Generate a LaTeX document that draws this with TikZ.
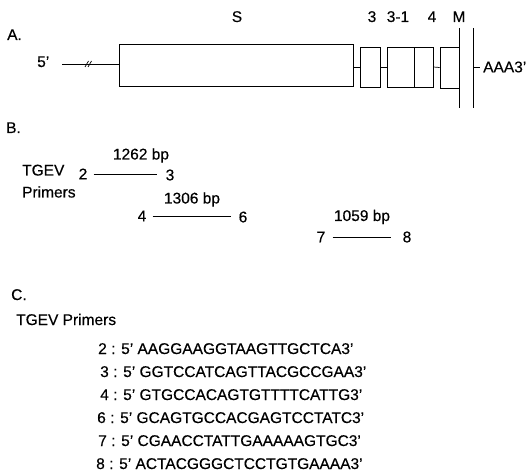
\documentclass[tikz,border=0pt]{standalone}
\usepackage{fontspec}
\setmainfont{Liberation Sans}[FakeBold=0.3]
\begin{document}
\begin{tikzpicture}[x=1pt,y=-1pt,
  txt/.style={inner sep=0pt,font=\fontsize{15.5}{18}\selectfont},
  lbl/.style={txt,anchor=base west},
  clbl/.style={txt,anchor=base},
  gbox/.style={draw,line width=0.7pt,inner sep=0pt,rectangle},
  ln/.style={line width=0.7pt},
  thin/.style={line width=0.6pt}]
\useasboundingbox (0,0) rectangle (530,473);
% ---------- A ----------
\node[lbl] (A) at (7,40) {A.};
\node[clbl] (Slab) at (237,22) {S};
\node[clbl] (l3) at (372,22) {3};
\node[clbl] (l31) at (398,22) {3-1};
\node[clbl] (l4) at (432,22) {4};
\node[clbl] (lM) at (459,22) {M};
\node[gbox,minimum width=234pt,minimum height=42pt] (S) at (236,65) {};
\node[gbox,minimum width=20pt,minimum height=40pt] (b3) at (370,67) {};
\node[gbox,minimum width=27pt,minimum height=40pt] (b31) at (400.5,67) {};
\node[gbox,minimum width=19pt,minimum height=40pt] (b4) at (423.5,67) {};
\node[gbox,minimum width=19pt,minimum height=41pt] (bM) at (449.5,67.5) {};
\node[lbl] (five) at (37,67) {5'};
\coordinate (L5) at (62,64);
\draw[ln] (L5) -- (L5 -| S.west);
\draw[ln] (85,67) -- (88.5,61);
\draw[ln] (88,67) -- (91.5,61);
\draw[ln] (b3.west) -- (b3.west -| S.east);
\draw[ln] (b3.east) -- (b31.west);
\draw[ln] (b4.east) -- (bM.west);
\coordinate (v1t) at (459,28);
\coordinate (v1b) at (459,108);
\coordinate (v2t) at (473,28);
\coordinate (v2b) at (473,108);
\draw[ln] (v1t) -- (v1b);
\draw[ln] (v2t) -- (v2b);
\node[txt,anchor=west] (AAA) at (483,67) {AAA3'};
\draw[ln] (v2t |- AAA.west) -- ([xshift=-3pt]AAA.west);
% ---------- B ----------
\node[lbl] (B) at (6,133) {B.};
\node[clbl] (bp1) at (141,159.5) {1262 bp};
\node[lbl] (tg) at (22,175.5) {TGEV};
\node[lbl] (pr) at (22,197.5) {Primers};
\node[txt] (n2) at (83,174) {2};
\node[txt] (n3) at (170,175) {3};
\draw[thin] ([xshift=6pt]n2.east) -- ([xshift=-8pt]n3.west |- n2.east);
\node[clbl] (bp2) at (192,203.5) {1306 bp};
\node[txt] (n4) at (142,216) {4};
\node[txt] (n6) at (243,217) {6};
\draw[thin] ([xshift=6pt]n4.east) -- ([xshift=-7pt]n6.west |- n4.east);
\node[clbl] (bp3) at (362,221) {1059 bp};
\node[txt] (n7) at (321,237) {7};
\node[txt] (n8) at (407,237) {8};
\draw[thin] ([xshift=7pt]n7.east) -- ([xshift=-11pt]n8.west);
% ---------- C ----------
\node[lbl] (C) at (11,300) {C.};
\node[lbl] (tp) at (16,325) {TGEV Primers};
\node[lbl] (r2) at (98,354) {2 : 5' AAGGAAGGTAAGTTGCTCA3'};
\node[lbl] (r3) at (100,377) {3 : 5' GGTCCATCAGTTACGCCGAA3'};
\node[lbl] (r4) at (100,400) {4 : 5' GTGCCACAGTGTTTTCATTG3'};
\node[lbl] (r6) at (97,423) {6 : 5' GCAGTGCCACGAGTCCTATC3'};
\node[lbl] (r7) at (98,446) {7 : 5' CGAACCTATTGAAAAAGTGC3'};
\node[lbl] (r8) at (96,469) {8 : 5' ACTACGGGCTCCTGTGAAAA3'};
\end{tikzpicture}
\end{document}
